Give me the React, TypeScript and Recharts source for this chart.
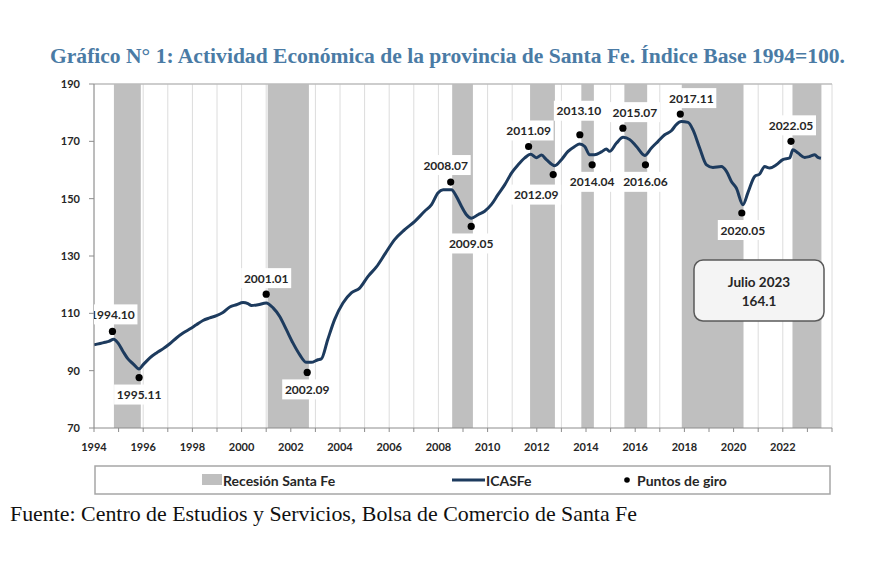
import React from 'react';
import {
  ComposedChart,
  Line,
  Scatter,
  XAxis,
  YAxis,
  CartesianGrid,
  ReferenceArea,
  ReferenceLine,
} from 'recharts';

// ICASFe index (decimal year, value)
const lineDates = [
  1994.0, 1994.25, 1994.45, 1994.6, 1994.8, 1994.98, 1995.18, 1995.38, 1995.59, 1995.83,
  1996.0, 1996.26, 1996.54, 1996.8, 1997.08, 1997.35, 1997.62, 1997.89, 1998.16, 1998.43,
  1998.7, 1998.98, 1999.24, 1999.52, 1999.79, 2000.06, 2000.26, 2000.4, 2000.67, 2001.0,
  2001.28, 2001.55, 2001.82, 2002.09, 2002.36, 2002.63, 2002.83, 2003.1, 2003.24, 2003.5,
  2003.78, 2004.12, 2004.46, 2004.8, 2005.14, 2005.48, 2005.85, 2006.22, 2006.63, 2007.04,
  2007.44, 2007.72, 2007.98, 2008.19, 2008.53, 2008.73, 2008.94, 2009.14, 2009.34, 2009.61,
  2009.88, 2010.15, 2010.42, 2010.7, 2010.97, 2011.24, 2011.51, 2011.75, 2011.98, 2012.19,
  2012.39, 2012.73, 2013.0, 2013.27, 2013.54, 2013.74, 2013.95, 2014.15, 2014.35, 2014.63,
  2014.83, 2014.96, 2015.24, 2015.51, 2015.78, 2016.05, 2016.39, 2016.66, 2016.93, 2017.2,
  2017.47, 2017.67, 2017.87, 2018.15, 2018.35, 2018.62, 2018.9, 2019.16, 2019.5, 2019.71,
  2019.91, 2020.11, 2020.38, 2020.59, 2020.86, 2021.06, 2021.26, 2021.47, 2021.74, 2022.0,
  2022.28, 2022.41, 2022.62, 2022.89, 2023.09, 2023.3, 2023.43, 2023.55,
];
const icasfeValues = [
  99.0, 99.5, 99.9, 100.2, 101.0, 99.6, 96.7, 94.1, 92.4, 90.6,
  92.1, 94.4, 96.2, 97.6, 99.4, 101.4, 103.1, 104.5, 106.0, 107.5,
  108.4, 109.2, 110.3, 112.2, 113.0, 113.8, 113.4, 112.7, 113.0, 113.6,
  111.9, 108.9, 104.3, 99.6, 95.6, 92.9, 92.9, 93.8, 94.1, 100.8,
  107.8, 113.6, 117.1, 118.8, 122.9, 126.2, 131.0, 135.7, 139.2, 142.1,
  145.6, 147.9, 152.0, 153.1, 153.1, 150.8, 147.3, 144.4, 143.2, 144.4,
  145.6, 147.9, 151.4, 154.9, 158.9, 161.8, 164.2, 165.5, 164.3, 165.2,
  163.6, 161.5, 163.6, 166.5, 168.2, 169.1, 168.2, 165.3, 165.3, 166.3,
  167.3, 166.5, 169.4, 171.4, 170.6, 168.2, 165.1, 167.7, 170.0, 172.3,
  173.7, 175.8, 176.9, 176.6, 174.0, 167.7, 161.8, 160.9, 161.2, 159.5,
  156.0, 153.7, 147.9, 152.3, 157.8, 158.6, 161.2, 160.7, 161.8, 163.6,
  164.2, 167.1, 165.9, 164.4, 164.7, 165.3, 164.4, 164.1,
];

// Turning points (year.month) and the marker value
const turningLabels = [
  '1994.10', '1995.11', '2001.01', '2002.09', '2008.07', '2009.05', '2011.09', '2012.09',
  '2013.10', '2014.04', '2015.07', '2016.06', '2017.11', '2020.05', '2022.05',
];
const turningValues = [
  103.7, 87.6, 116.7, 89.4, 155.8, 140.3, 168.2, 158.4,
  172.3, 161.8, 174.6, 161.8, 179.5, 145.0, 170.0,
];

// Recession periods (peak -> trough)
const recessionStarts = ['1994.10', '2001.01', '2008.07', '2011.09', '2013.10', '2015.07', '2017.11', '2022.05'];
const recessionEnds = ['1995.11', '2002.09', '2009.05', '2012.09', '2014.04', '2016.06', '2020.05', '2023.07'];

const yTicks = [70, 90, 110, 130, 150, 170, 190];
const xTicks = [
  1994, 1995, 1996, 1997, 1998, 1999, 2000, 2001, 2002, 2003, 2004, 2005, 2006, 2007, 2008,
  2009, 2010, 2011, 2012, 2013, 2014, 2015, 2016, 2017, 2018, 2019, 2020, 2021, 2022, 2023, 2024,
];

const titleText = 'Gráfico N° 1: Actividad Económica de la provincia de Santa Fe. Índice Base 1994=100.';
const sourceText = 'Fuente: Centro de Estudios y Servicios, Bolsa de Comercio de Santa Fe';
const lastLabel = 'Julio 2023';
const lastValue = '164.1';

// label placement relative to the marker (styling, not data)
const labelOffsets: [number, number][] = [
  [0, -17], [0, 17], [0, -16], [0, 17], [-5, -17], [0, 17], [0, -16], [-17, 20],
  [-1, -24], [0, 17], [12, -16], [0, 17], [11, -16], [1, 17], [0, -16],
];

const toT = (s: string) => {
  const [y, m] = s.split('.').map(Number);
  return y + (m - 1) / 12;
};

const lineData = lineDates.map((t, i) => ({ t, v: icasfeValues[i] }));
const pointData = turningLabels.map((label, i) => ({ t: toT(label), p: turningValues[i], label, i }));

const SANS = 'Lato, "Open Sans", sans-serif';
const SERIF = '"Liberation Serif", "DejaVu Serif", serif';
const NAVY = '#1d3b5e';
const BAND = '#bfbfbf';

const TurningPoint = (props: any) => {
  const { cx, cy, payload } = props;
  if (cx == null || cy == null) return null;
  const off = labelOffsets[payload.i];
  const lx = cx + off[0];
  const ly = cy + off[1];
  const w = 50;
  const h = 20;
  return (
    <g>
      <rect x={lx - w / 2} y={ly - h / 2} width={w} height={h} fill="#ffffff" />
      <text
        x={lx}
        y={ly}
        textAnchor="middle"
        dominantBaseline="central"
        fontSize={12}
        fontWeight={700}
        fontFamily={SANS}
        fill="#262626"
      >
        {payload.label}
      </text>
      <circle cx={cx} cy={cy} r={3.6} fill="#000000" />
    </g>
  );
};

export default function App() {
  return (
    <div style={{ position: 'absolute', left: 0, top: 0, width: 870, height: 580, background: '#ffffff' }}>
      <ComposedChart width={870} height={580} margin={{ top: 84, right: 38, bottom: 122, left: 0 }}>
        <CartesianGrid horizontal={false} stroke="#dcdcdc" strokeWidth={1} />
        {recessionStarts.map((s, i) => (
          <ReferenceArea
            key={s}
            x1={toT(s) + 0.06}
            x2={toT(recessionEnds[i]) + 0.07}
            y1={70}
            y2={190}
            fill={BAND}
            fillOpacity={1}
            stroke="none"
          />
        ))}
        <ReferenceLine y={190} stroke="#bdbdbd" strokeWidth={1.5} />
        <XAxis
          type="number"
          dataKey="t"
          domain={[1994, 2024]}
          ticks={xTicks}
          interval={0}
          allowDataOverflow
          tickFormatter={(v: number) => (v % 2 === 0 && v <= 2022 ? String(v) : '')}
          stroke="#8c8c8c"
          tickSize={4}
          tickMargin={11}
          height={30}
          tick={{ fill: '#262626', fontSize: 11, fontWeight: 700, fontFamily: SANS }}
        />
        <YAxis
          type="number"
          domain={[70, 190]}
          ticks={yTicks}
          interval={0}
          width={94}
          stroke="#8c8c8c"
          tickSize={5}
          tickMargin={9}
          tick={{ fill: '#262626', fontSize: 11, fontWeight: 700, fontFamily: SANS }}
        />
        <Line
          data={lineData}
          dataKey="v"
          type="monotone"
          stroke={NAVY}
          strokeWidth={3}
          dot={false}
          activeDot={false}
          isAnimationActive={false}
        />
        <Scatter data={pointData} dataKey="p" shape={TurningPoint} isAnimationActive={false} />
      </ComposedChart>

      <svg
        width={870}
        height={580}
        style={{ position: 'absolute', left: 0, top: 0, pointerEvents: 'none' }}
      >
        <text
          x={50}
          y={63}
          textLength={795}
          lengthAdjust="spacingAndGlyphs"
          fontFamily={SERIF}
          fontWeight={700}
          fontSize={20.5}
          fill="#4a7ba5"
        >
          {titleText}
        </text>

        <rect x={694} y={260} width={130} height={61} rx={9} ry={9} fill="#f4f4f4" stroke="#5a5a5a" strokeWidth={1.5} />
        <text x={759} y={282} textAnchor="middle" dominantBaseline="central" fontFamily={SANS} fontWeight={700} fontSize={13.5} fill="#262626">
          {lastLabel}
        </text>
        <text x={759} y={301} textAnchor="middle" dominantBaseline="central" fontFamily={SANS} fontWeight={700} fontSize={13.5} fill="#262626">
          {lastValue}
        </text>

        <rect x={95} y={466} width={735} height={28} fill="#ffffff" stroke="#a6a6a6" strokeWidth={1.5} />
        <rect x={202} y={474} width={20} height={11} fill={BAND} />
        <text x={223} y={480} dominantBaseline="central" fontFamily={SANS} fontWeight={700} fontSize={14} fill="#262626">
          Recesión Santa Fe
        </text>
        <line x1={452} y1={480} x2={485} y2={480} stroke={NAVY} strokeWidth={3} />
        <text x={486} y={480} dominantBaseline="central" fontFamily={SANS} fontWeight={700} fontSize={14} fill="#262626">
          ICASFe
        </text>
        <circle cx={627} cy={480} r={2.8} fill="#000000" />
        <text x={637} y={480} dominantBaseline="central" fontFamily={SANS} fontWeight={700} fontSize={14} fill="#262626">
          Puntos de giro
        </text>

        <text
          x={10}
          y={521}
          textLength={627}
          lengthAdjust="spacingAndGlyphs"
          fontFamily={SERIF}
          fontSize={21}
          fill="#111111"
        >
          {sourceText}
        </text>
      </svg>
    </div>
  );
}
